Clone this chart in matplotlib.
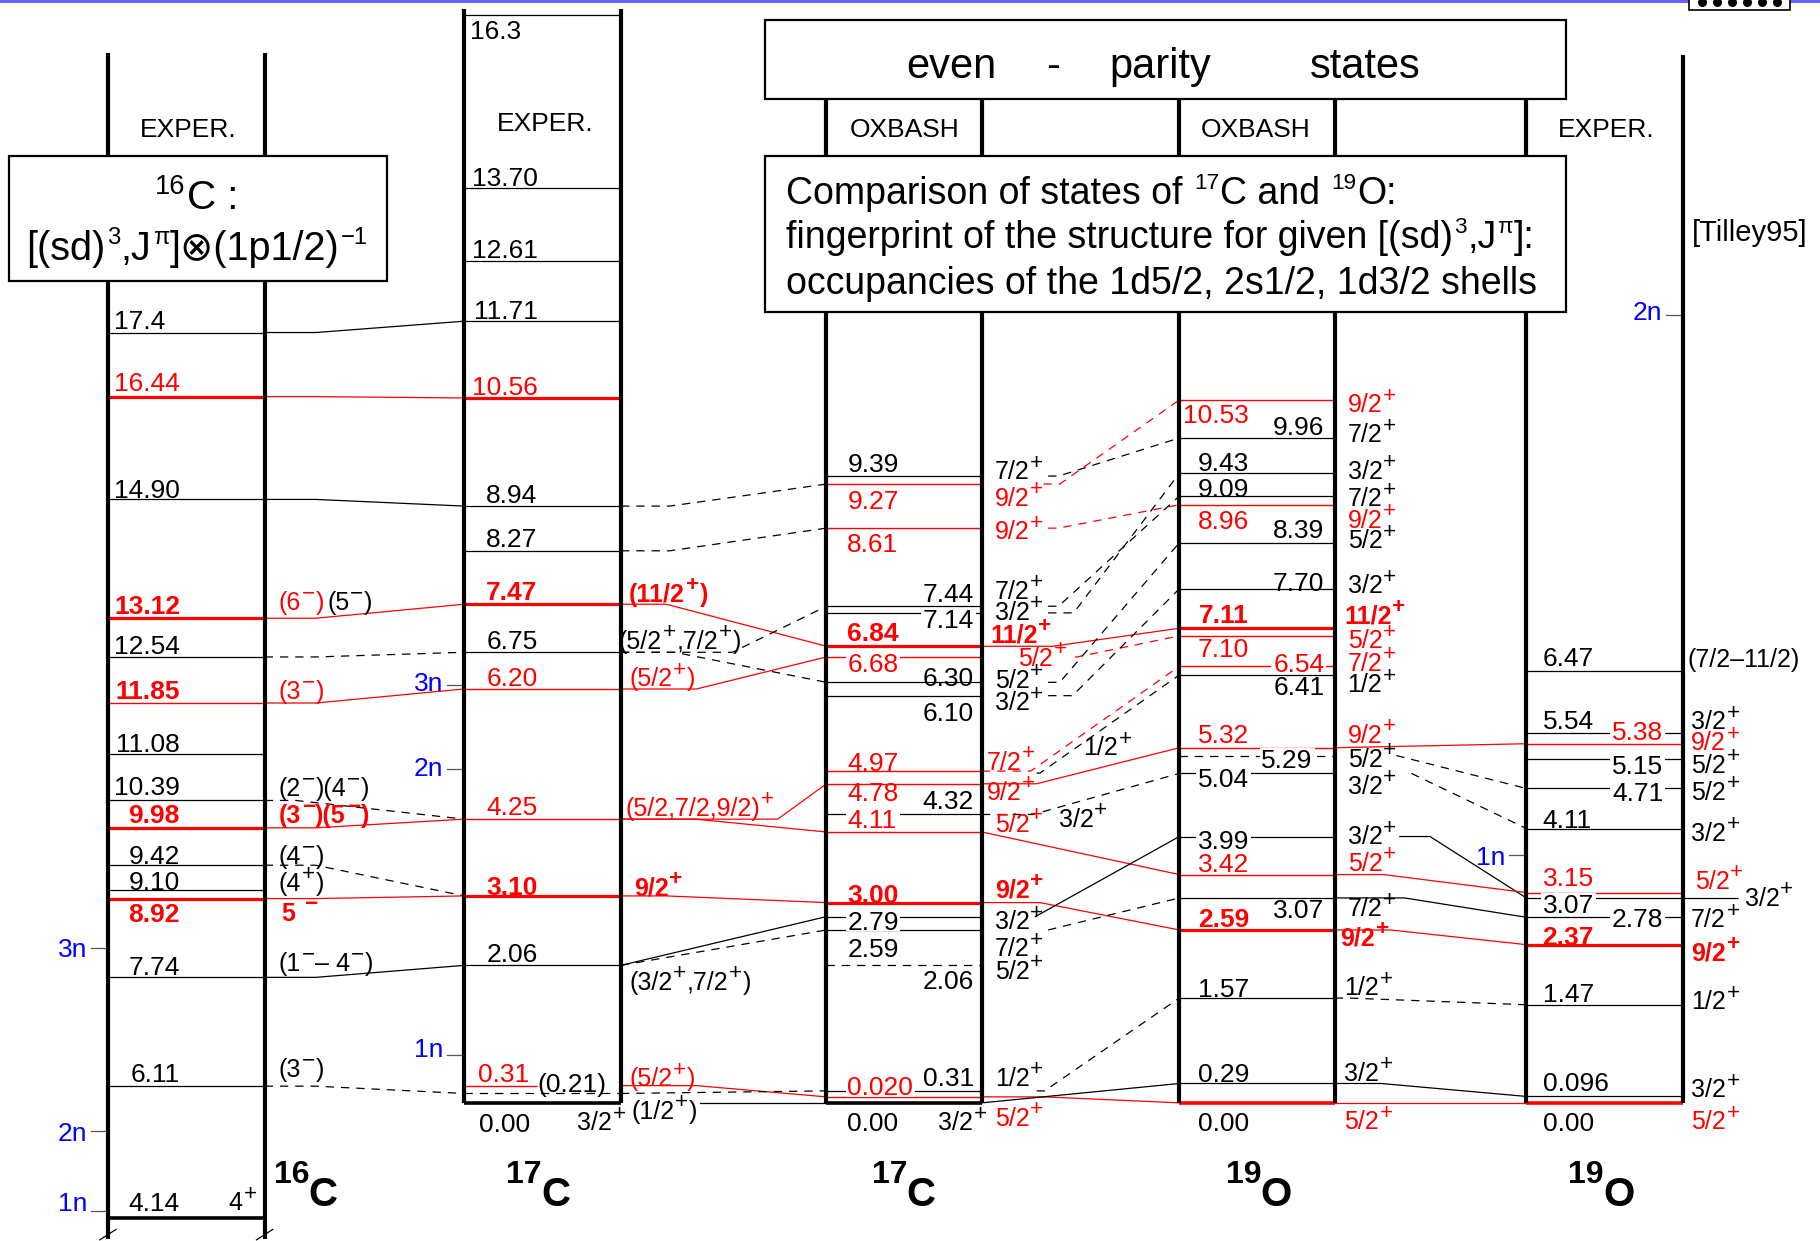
import re

import numpy as np
import matplotlib
matplotlib.use("Agg")
import matplotlib.pyplot as plt
from matplotlib.patches import Rectangle

plt.rcParams["font.family"] = ["Liberation Sans", "DejaVu Sans"]
plt.rcParams["lines.scale_dashes"] = False

# ─── data: level energies (MeV), printed numbers, J^pi ────────────────────────

# 16C, negative-parity states (EXPER.)
A_E    = [17.4, 16.44, 14.90, 13.12, 12.54, 11.85, 11.08, 10.39, 9.98, 9.42, 9.10, 8.92, 7.74, 6.11, 4.14]
A_NUM  = ["17.4", "16.44", "14.90", "13.12", "12.54", "11.85", "11.08", "10.39", "9.98", "9.42",
          "9.10", "8.92", "7.74", "6.11", "4.14"]
A_JPI  = ["", "", "", "(6^-)", "", "(3^-)", "", "(2^-)(4^-)", "(3^-)(5^-)", "(4^-)", "(4^+)", "5 ^-",
          "(1^-– 4^-)", "(3^-)", "4^+"]
A_KIND = "kRkBkbkkBkkBkkK"

# 17C (EXPER.)
B_E    = [16.3, 13.70, 12.61, 11.71, 10.56, 8.94, 8.27, 7.47, 6.75, 6.20, 4.25, 3.10, 2.06, 0.31, 0.21, 0.00]
B_NUM  = ["16.3", "13.70", "12.61", "11.71", "10.56", "8.94", "8.27", "7.47", "6.75", "6.20", "4.25",
          "3.10", "2.06", "0.31", "(0.21)", "0.00"]
B_JPI  = ["", "", "", "", "", "", "", "(11/2^+)", "(5/2^+,7/2^+)", "(5/2^+)", "(5/2,7/2,9/2)^+",
          "9/2^+", "(3/2^+,7/2^+)", "(5/2^+)", "(1/2^+)", "3/2^+"]
B_KIND = "kkkkRkkBkrrBkrdK"

# 17C (OXBASH)
C_E    = [9.39, 9.27, 8.61, 7.44, 7.14, 6.84, 6.68, 6.30, 6.10, 4.97, 4.94, 4.78, 4.32, 4.11, 3.00,
          2.79, 2.59, 2.06, 0.31, 0.020, 0.00]
C_NUM  = ["9.39", "9.27", "8.61", "7.44", "7.14", "6.84", "6.68", "6.30", "6.10", "4.97", "", "4.78",
          "4.32", "4.11", "3.00", "2.79", "2.59", "2.06", "0.31", "0.020", "0.00"]
C_JPI  = ["7/2^+", "9/2^+", "9/2^+", "7/2^+", "3/2^+", "11/2^+", "5/2^+", "5/2^+", "3/2^+", "7/2^+",
          "1/2^+", "9/2^+", "3/2^+", "5/2^+", "9/2^+", "3/2^+", "7/2^+", "5/2^+", "1/2^+", "5/2^+", "3/2^+"]
C_KIND = "krrkkBrkkrnrkrBkkdkrK"

# 19O (OXBASH)
D_E    = [10.53, 9.96, 9.43, 9.09, 8.96, 8.39, 7.70, 7.11, 7.10, 6.54, 6.41, 5.32, 5.29, 5.04, 3.99,
          3.42, 3.07, 2.59, 1.57, 0.29, 0.00]
D_NUM  = ["10.53", "9.96", "9.43", "9.09", "8.96", "8.39", "7.70", "7.11", "7.10", "6.54", "6.41",
          "5.32", "5.29", "5.04", "3.99", "3.42", "3.07", "2.59", "1.57", "0.29", "0.00"]
D_JPI  = ["9/2^+", "7/2^+", "3/2^+", "7/2^+", "9/2^+", "5/2^+", "3/2^+", "11/2^+", "5/2^+", "7/2^+",
          "1/2^+", "9/2^+", "5/2^+", "3/2^+", "3/2^+", "5/2^+", "7/2^+", "9/2^+", "1/2^+", "3/2^+", "5/2^+"]
D_KIND = "rkkkrkkBrrkrdkkrkBkkG"

# 19O (EXPER.)
E_E    = [6.47, 5.54, 5.38, 5.15, 4.71, 4.11, 3.15, 3.07, 2.78, 2.37, 1.47, 0.096, 0.00]
E_NUM  = ["6.47", "5.54", "5.38", "5.15", "4.71", "4.11", "3.15", "3.07", "2.78", "2.37", "1.47",
          "0.096", "0.00"]
E_JPI  = ["(7/2–11/2)", "3/2^+", "9/2^+", "5/2^+", "5/2^+", "3/2^+", "5/2^+", "3/2^+", "7/2^+",
          "9/2^+", "1/2^+", "3/2^+", "5/2^+"]
E_KIND = "kkrkkkrkkBkkG"

# neutron thresholds (MeV, in each column's own energy)
A_THR = [("1n", 4.24), ("2n", 5.44), ("3n", 8.18)]
B_THR = [("1n", 0.71), ("2n", 5.00), ("3n", 6.26)]
E_THR = [("1n", 3.72), ("2n", 11.80)]

# correspondences between levels: (column, energy) -> (column, energy)
CONN = [
    ("A", 17.4, "B", 11.71), ("A", 16.44, "B", 10.56), ("A", 14.90, "B", 8.94), ("A", 13.12, "B", 7.47),
    ("A", 12.54, "B", 6.75), ("A", 11.85, "B", 6.20), ("A", 10.39, "B", 4.25), ("A", 9.98, "B", 4.25),
    ("A", 9.42, "B", 3.10), ("A", 8.92, "B", 3.10), ("A", 7.74, "B", 2.06), ("A", 6.11, "B", 0.21),
    ("B", 8.94, "C", 9.27), ("B", 8.27, "C", 8.61), ("B", 7.47, "C", 6.84), ("B", 6.75, "C", 7.44),
    ("B", 6.75, "C", 6.30), ("B", 6.20, "C", 6.68), ("B", 4.25, "C", 4.78), ("B", 4.25, "C", 4.11),
    ("B", 3.10, "C", 3.00), ("B", 2.06, "C", 2.79), ("B", 2.06, "C", 2.59), ("B", 0.31, "C", 0.020),
    ("B", 0.21, "C", 0.31), ("B", 0.00, "C", 0.00),
    ("C", 9.39, "D", 9.96), ("C", 9.27, "D", 10.53), ("C", 8.61, "D", 8.96), ("C", 7.44, "D", 9.09),
    ("C", 7.14, "D", 9.43), ("C", 6.84, "D", 7.11), ("C", 6.68, "D", 7.10), ("C", 6.30, "D", 8.39),
    ("C", 6.10, "D", 7.70), ("C", 4.97, "D", 6.54), ("C", 4.94, "D", 6.41), ("C", 4.78, "D", 5.32),
    ("C", 4.32, "D", 5.04), ("C", 4.11, "D", 3.42), ("C", 3.00, "D", 2.59), ("C", 2.79, "D", 3.99),
    ("C", 2.59, "D", 3.07), ("C", 0.31, "D", 1.57), ("C", 0.020, "D", 0.00), ("C", 0.00, "D", 0.29),
    ("D", 5.32, "E", 5.38), ("D", 5.29, "E", 4.71), ("D", 5.04, "E", 4.11), ("D", 3.99, "E", 3.07),
    ("D", 3.42, "E", 3.15), ("D", 3.07, "E", 2.78), ("D", 2.59, "E", 2.37), ("D", 1.57, "E", 1.47),
    ("D", 0.29, "E", 0.096), ("D", 0.00, "E", 0.00),
]

NUCLIDES = [("16", "C"), ("17", "C"), ("17", "C"), ("19", "O"), ("19", "O")]

# ─── layout (reference pixel grid 1568 x 1069, energy on the y axis) ──────────

W, H = 1568, 1069
FIG_W = 1820
PX_PER_MEV = 57.5
Y_ZERO = 950.0
PT2PX = (100 / 72) / (FIG_W / W)
FS = 19
FS_JPI = 18
DASH = (0, (6, 5))

COL_X = {"A": (93, 228), "B": (400, 535), "C": (712, 846), "D": (1016, 1150), "E": (1315, 1450)}
COL_SHIFT = {"A": 5.86}
NUDGE = {("A", 9.10): 3, ("B", 0.31): 3, ("B", 0.21): 4, ("C", 7.14): -11.5, ("C", 4.11): 3,
         ("C", 0.31): 7.5, ("C", 0.02): -4, ("D", 7.10): 6, ("D", 5.29): 5, ("D", 5.04): 6}
LINE_X = {("B", 0.31): (400, 463), ("E", 3.07): (1315, 1497)}

LINE_STYLE = {"k": ("black", 0.9, "-"), "d": ("black", 0.9, DASH), "r": ("red", 1.0, "-"),
              "R": ("red", 2.3, "-"), "B": ("red", 2.3, "-"), "b": ("red", 1.0, "-"),
              "K": ("black", 2.6, "-"), "G": ("red", 2.6, "-")}

NUM_ANCHOR = {"A": {"L": ("right", 155)}, "B": {"L": ("right", 463)},
              "C": {"L": ("left", 730), "R": ("right", 839)},
              "D": {"L": ("right", 1076), "R": ("right", 1141)},
              "E": {"L": ("left", 1329), "R": ("right", 1433)}}
NUM_X = {("A", 17.4): ("right", 142), ("B", 16.3): ("right", 449), ("B", 0.31): ("right", 456),
         ("B", 0.21): ("left", 463), ("B", 0.0): ("right", 457), ("D", 5.29): ("right", 1131)}

# (anchor group, vertical offset px, mask line behind)
A_NUM_POS = [("L", -11.5, 0), ("L", -12.6, 0), ("L", -9, 0), ("L", -11.5, 0), ("L", -11, 0),
             ("L", -11.6, 0), ("L", -10.3, 0), ("L", -12.5, 0), ("L", -12, 0), ("L", -9, 0),
             ("L", -8, 0), ("L", 12, 0), ("L", -10, 0), ("L", -12, 0), ("L", -13.5, 0)]
B_NUM_POS = [("L", 13, 0), ("L", -10, 0), ("L", -11, 0), ("L", -9.7, 0), ("L", -10.4, 0),
             ("L", -11, 0), ("L", -11, 0), ("L", -11.5, 0), ("L", -10.6, 0), ("L", -10.5, 0),
             ("L", -12, 0), ("L", -8.7, 0), ("L", -11, 0), ("L", -11, 0), ("L", -9.5, 0), ("L", 17, 0)]
C_NUM_POS = [("L", -12, 0), ("L", 13, 0), ("L", 12, 0), ("R", -12, 0), ("R", 4.5, 1), ("L", -13, 0),
             ("L", 5, 1), ("R", -5, 0), ("R", 14, 0), ("L", -8, 0), ("L", 0, 0), ("L", 7, 0),
             ("R", -12.6, 0), ("L", -11.7, 1), ("L", -8, 0), ("L", 3.4, 1), ("L", 15.5, 0),
             ("R", 12, 0), ("R", -12, 0), ("L", -9.4, 1), ("L", 16, 0)]
D_NUM_POS = [("L", 12, 0), ("R", -11, 0), ("L", -10, 0), ("L", -7, 0), ("L", 13, 0), ("R", -12, 0),
             ("R", -6, 0), ("L", -13, 0), ("L", 10, 0), ("R", -3, 1), ("R", 9, 0), ("L", -12, 0),
             ("R", 3, 1), ("L", 4, 1), ("L", 3, 1), ("L", -10, 0), ("R", 9, 0), ("L", -11, 0),
             ("L", -9, 0), ("L", -9, 0), ("L", 16, 0)]
E_NUM_POS = [("L", -12, 0), ("L", -11.5, 0), ("R", -11.6, 1), ("R", 5, 1), ("R", 3, 1), ("L", -9, 0),
             ("L", -14, 0), ("L", 4.5, 1), ("R", 0, 1), ("L", -8, 0), ("L", -10.5, 0),
             ("L", -12.5, 0), ("L", 16, 0)]

# (x, vertical offset px) of the J^pi labels
A_JPI_POS = [None, None, None, (240, -15), None, (240, -11), None, (240, -11.7), (240, -11.7),
             (240, -8.7), (240, -7), (243, 11.5), (240, -13), (240, -16), (197, -14)]
B_JPI_POS = [None] * 7 + [(542, -10), (533, -10.6), (542, -10), (539, -10.6), (546, -8), (542, 13.5),
                          (542, -7.4), (544, 14), (497, 16)]
C_JPI_POS = [(857, -5), (857, 11), (857, 2), (857, -14), (857, -2), (853, -11), (877, 0), (857, -3),
             (857, 5), (850, -9), (933, -23), (850, 6), (912, 3), (857, -8), (857, -12), (857, 3),
             (857, 15), (857, 4), (857, -12), (857, 17), (808, 16)]
D_JPI_POS = [(1161, 3), (1161, -4), (1161, -3), (1161, 1), (1161, 12), (1161, -3), (1161, -4),
             (1158, -12), (1161, 3), (1161, -4), (1161, 7), (1161, -12), (1161, 2), (1161, 10),
             (1161, -1), (1161, -11), (1161, 8), (1155, 6), (1158, -10), (1158, -10), (1158, 15)]
E_JPI_POS = [(1454, -11), (1457, -11), (1457, -2), (1457, 4), (1457, 2), (1457, 3), (1460, -11),
             (1503, -1), (1457, 1), (1457, 6), (1457, -4), (1457, -7), (1457, 15)]
JPI_PLAIN = {("A", 13.12)}

# (colour, linestyle, x where the line leaves, x of the knee)
CONN_LOOK = [
    ("k", "-", 228, 272), ("r", "-", 228, 272), ("k", "-", 228, 272), ("r", "-", 228, 272),
    ("k", "--", 228, 272), ("r", "-", 228, 272), ("k", "--", 228, 255), ("r", "-", 228, 272),
    ("k", "--", 228, 272), ("r", "-", 228, 272), ("k", "-", 228, 272), ("k", "--", 228, 272),
    ("k", "--", 535, 577), ("k", "--", 535, 577), ("r", "-", 535, 574), ("k", "--", 535, 631),
    ("k", "--", 535, 581), ("r", "-", 535, 600), ("r", "-", 535, 670), ("r", "-", 535, 599),
    ("r", "-", 535, 574), ("k", "-", 535, 535), ("k", "--", 535, 535), ("r", "-", 535, 600),
    ("k", "--", 535, 535), ("k", "-", 603, 603),
    ("k", "--", 903, 912), ("r", "--", 899, 913), ("r", "--", 903, 912), ("k", "--", 903, 912),
    ("k", "--", 903, 925), ("r", "-", 846, 907), ("r", "--", 926, 928), ("k", "--", 903, 913),
    ("k", "--", 903, 924), ("r", "--", 846, 888), ("k", "--", 893, 896), ("r", "-", 846, 893),
    ("k", "--", 846, 890), ("r", "-", 846, 846), ("r", "-", 846, 896), ("k", "-", 892, 892),
    ("k", "--", 903, 903), ("k", "--", 893, 900), ("r", "-", 846, 900), ("k", "-", 846, 846),
    ("r", "-", 1150, 1150), ("k", "--", 1203, 1203), ("k", "--", 1216, 1216), ("k", "-", 1206, 1232),
    ("r", "-", 1150, 1192), ("k", "-", 1150, 1210), ("r", "-", 1150, 1198), ("k", "--", 1150, 1162),
    ("k", "-", 1150, 1190), ("r", "-", 1150, 1150),
]

A_THR_POS = [("L", -8), ("L", 1), ("L", 0)]
B_THR_POS = [("L", -7), ("L", -2.6), ("L", -3)]
E_THR_POS = [("L", 0.8), ("R", -4.4)]

NUC_X = [236, 436, 751, 1056, 1351]


# ─── helpers ──────────────────────────────────────────────────────────────────

SUP_RE = re.compile(r"\^(\{[^}]*\}|.)")


def e_of(ypx):
    return (Y_ZERO - ypx) / PX_PER_MEV


def level_y(col, e):
    return e - COL_SHIFT.get(col, 0) - NUDGE.get((col, e), 0) / PX_PER_MEV


def split_sup(s):
    segs, pos = [], 0
    for m in SUP_RE.finditer(s):
        if m.start() > pos:
            segs.append((s[pos:m.start()], False))
        tok = m.group(1)
        if tok.startswith("{"):
            tok = tok[1:-1]
        segs.append((tok.replace("-", "\u2212"), True))
        pos = m.end()
    if pos < len(s):
        segs.append((s[pos:], False))
    return segs


def rich(ax, x, y, s, size, ha="left", color="black", bold=False,
         sup_scale=0.9, sup_raise=0.42, zorder=6):
    """text with superscripts; x in grid px, y = baseline in energy units"""
    r = fig.canvas.get_renderer()
    weight = "bold" if bold else "normal"
    items = []
    for txt, is_sup in split_sup(s):
        fs = size * sup_scale if is_sup else size
        t = ax.text(0, y, txt, fontsize=fs, fontweight=weight, color=color,
                    ha="left", va="baseline", zorder=zorder)
        w = t.get_window_extent(r).width * W / FIG_W
        items.append((t, w + 0.03 * fs * PT2PX, is_sup))
    total = sum(w for _, w, _ in items)
    x0 = x - {"left": 0, "center": total / 2, "right": total}[ha]
    for t, w, is_sup in items:
        t.set_x(x0)
        if is_sup:
            t.set_y(y + sup_raise * size * PT2PX / PX_PER_MEV)
        x0 += w


def label(ax, x, y, s, dy, ha, color="black", bold=False, size=FS, mask=False):
    em = size * PT2PX
    yc = y - dy / PX_PER_MEV
    yb = yc - 0.358 * em / PX_PER_MEV
    if "^" in s:
        rich(ax, x, yb, s, size, ha=ha, color=color, bold=bold)
        return
    ax.text(x, yb, s, ha=ha, va="baseline", fontsize=size, color=color,
            fontweight="bold" if bold else "normal", zorder=6)
    if mask:
        w = sum(0.556 if ch.isdigit() else 0.278 for ch in s) * em + 3
        xl = x - w + 1.5 if ha == "right" else x - 1.5
        ax.add_patch(Rectangle((xl, yc - 0.40 * em / PX_PER_MEV), w, 0.80 * em / PX_PER_MEV,
                               fc="white", ec="none", zorder=5))


def text_px(ax, x, ybase, s, size, ha="center", **kw):
    ax.text(x, e_of(ybase), s, ha=ha, va="baseline", fontsize=size, zorder=8, **kw)


def rect_px(ax, x0, y0, x1, y1, **kw):
    ax.add_patch(Rectangle((x0, e_of(y1)), x1 - x0, e_of(y0) - e_of(y1), **kw))


def draw_column(ax, col, E, NUM, JPI, KIND, NUM_POS, JPI_POS):
    x0, x1 = COL_X[col]
    for i, e in enumerate(E):
        k = KIND[i]
        y = level_y(col, e)
        if k != "n":
            c, lw, ls = LINE_STYLE[k]
            xa, xb = LINE_X.get((col, e), (x0, x1))
            ax.plot([xa, xb], [y, y], color=c, lw=lw, ls=ls,
                    solid_capstyle="butt", zorder=2)
        num_color = "red" if k in "rRBb" else "black"
        jpi_color = "red" if k in "rRBbG" else "black"
        if NUM[i]:
            grp, dy, box = NUM_POS[i]
            ha, x = NUM_X.get((col, e), NUM_ANCHOR[col][grp])
            label(ax, x, y, NUM[i], dy, ha, num_color, bold=k in "Bb", mask=bool(box))
        if JPI[i]:
            jx, jdy = JPI_POS[i]
            jb = k == "B" and (col, e) not in JPI_PLAIN
            label(ax, jx, y, JPI[i], jdy, "left", jpi_color, bold=jb, size=FS_JPI)


def draw_thresholds(ax, col, thr, pos):
    for (name, e), (side, dy) in zip(thr, pos):
        bx = COL_X[col][0] if side == "L" else COL_X[col][1]
        y = e - COL_SHIFT.get(col, 0)
        ax.plot([bx - 15, bx - 1], [y, y], color="#555555", lw=0.9, zorder=2)
        label(ax, bx - 18, y, name, dy, "right", "blue")


# ─── figure ───────────────────────────────────────────────────────────────────

fig = plt.figure(figsize=(18.2, 12.41), dpi=100)
ax = fig.add_axes([0, 0, 1, 1])
ax.set_xlim(0, W)
ax.set_ylim(e_of(H), e_of(0))
ax.axis("off")

# column bars
BARS = [(93, 46, 1067), (228, 46, 1067), (400, 8, 950), (535, 8, 950), (712, 85, 950),
        (846, 85, 950), (1016, 85, 950), (1150, 85, 950), (1315, 85, 950), (1450, 47, 950)]
for bx, yt, yb in BARS:
    ax.plot([bx, bx], [e_of(yt), e_of(yb)], color="black", lw=3.0,
            solid_capstyle="butt", zorder=4)
for bx in (93, 228):
    ax.plot([bx - 7, bx + 7], [e_of(1068), e_of(1059)], color="black", lw=0.9, zorder=4)

# level schemes
draw_column(ax, "A", A_E, A_NUM, A_JPI, A_KIND, A_NUM_POS, A_JPI_POS)
draw_column(ax, "B", B_E, B_NUM, B_JPI, B_KIND, B_NUM_POS, B_JPI_POS)
draw_column(ax, "C", C_E, C_NUM, C_JPI, C_KIND, C_NUM_POS, C_JPI_POS)
draw_column(ax, "D", D_E, D_NUM, D_JPI, D_KIND, D_NUM_POS, D_JPI_POS)
draw_column(ax, "E", E_E, E_NUM, E_JPI, E_KIND, E_NUM_POS, E_JPI_POS)
label(ax, 282, level_y("A", 13.12), "(5^-)", -15, "left", "black", size=FS_JPI)

# correspondences
for (ca, ea, cb, eb), (c, ls, xs, xk) in zip(CONN, CONN_LOOK):
    ya, yb = level_y(ca, ea), level_y(cb, eb)
    xe = COL_X[cb][0]
    ax.plot([xs, xk, xe], [ya, ya, yb], color="red" if c == "r" else "black", lw=0.9,
            ls=DASH if ls == "--" else "-", zorder=2)

draw_thresholds(ax, "A", A_THR, A_THR_POS)
draw_thresholds(ax, "B", B_THR, B_THR_POS)
draw_thresholds(ax, "E", E_THR, E_THR_POS)

# boxes
box_kw = dict(fc="white", ec="black", lw=1.6, zorder=7)
rect_px(ax, 8, 134, 333, 242, **box_kw)
rect_px(ax, 659, 17, 1349, 85, **box_kw)
rect_px(ax, 659, 134, 1349, 269, **box_kw)

rich(ax, 170, e_of(180), "^{16}C :", 29, ha="center", sup_scale=0.68, sup_raise=0.36, zorder=8)
rich(ax, 170, e_of(224), "[(sd)^{3},J^{π}]⊗(1p1/2)^{-1}", 28.5, ha="center",
     sup_scale=0.6, sup_raise=0.40, zorder=8)
for word, xc in [("even", 820), ("-", 907), ("parity", 1000), ("states", 1176)]:
    text_px(ax, xc, 67, word, 30)
rich(ax, 677, e_of(176), "Comparison of states of ^{17}C and ^{19}O:", 27,
     sup_scale=0.6, sup_raise=0.40, zorder=8)
rich(ax, 677, e_of(214), "fingerprint of the structure for given [(sd)^{3},J^{π}]:", 27,
     sup_scale=0.6, sup_raise=0.40, zorder=8)
text_px(ax, 677, 253, "occupancies of the 1d5/2, 2s1/2, 1d3/2 shells", 27, ha="left")

for xc, yb, s in [(162, 118, "EXPER."), (470, 113, "EXPER."), (1384, 118, "EXPER."),
                  (779, 118, "OXBASH"), (1082, 118, "OXBASH")]:
    text_px(ax, xc, yb, s, 19)
text_px(ax, 1458, 208, "[Tilley95]", 21, ha="left")

for (mass, el), xn in zip(NUCLIDES, NUC_X):
    text_px(ax, xn, 1019, mass, 23, ha="left", fontweight="bold")
    text_px(ax, xn + 30, 1039, el, 29, ha="left", fontweight="bold")

# slide frame remnants at the top
rect_px(ax, 0, 0, 1568, 2.4, fc="#6464ff", ec="none", zorder=8)
rect_px(ax, 1455, -3, 1542, 8.6, fc="white", ec="black", lw=1.2, zorder=9)
ax.scatter(np.linspace(1466, 1531, 6), [e_of(2.0)] * 6, s=30, c="black", zorder=10, clip_on=False)

fig.savefig("out.png", dpi=100)
